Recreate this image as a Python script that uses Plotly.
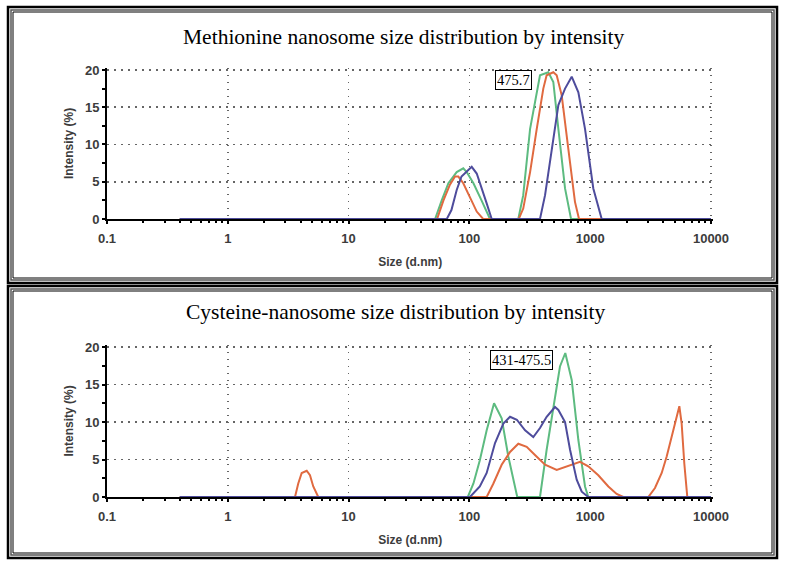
import math
import plotly.graph_objects as go

W, H = 786, 568

# ---------------- data ----------------
# Top panel: Methionine nanosome (size in d.nm, intensity in %)
met_green_x = [0.4, 52, 59, 67, 78.5, 89, 95, 108, 126, 148, 254, 279, 318, 361, 384, 450, 495, 545, 619, 694, 10000]
met_green_y = [0, 0, 2.5, 4.8, 6.3, 6.8, 6.3, 4.8, 2.5, 0, 0, 3.2, 12.1, 17.0, 19.3, 19.7, 18.4, 12.1, 4.1, 0, 0]

met_orange_x = [0.4, 54, 61, 69, 76, 81, 89, 101, 115, 130, 256, 279, 318, 361, 409, 436, 495, 528, 581, 659, 748, 808, 10000]
met_orange_y = [0, 0, 2.5, 4.6, 5.7, 5.7, 4.8, 3.0, 1.0, 0, 0, 1.4, 6.3, 12.1, 17.5, 19.3, 19.7, 19.3, 16.6, 9.4, 2.3, 0, 0]

met_blue_x = [0.4, 65, 71, 78.5, 86, 98, 104.5, 115, 126, 139, 153, 384, 423, 480, 545, 619, 703, 798, 906, 1061, 1245, 10000]
met_blue_y = [0, 0, 1.2, 3.9, 5.7, 6.6, 7.0, 6.1, 4.3, 2.1, 0, 0, 3.2, 9.4, 15.3, 17.5, 19.1, 17.0, 12.1, 4.1, 0, 0]

# Bottom panel: Cysteine-nanosome
cys_green_x = [0.4, 97, 108, 122, 139, 160, 185, 210, 249, 384, 436, 495, 562, 622, 703, 798, 906, 964, 10000]
cys_green_y = [0, 0, 1.8, 4.9, 8.9, 12.5, 10.5, 5.4, 0, 0, 6.3, 12.0, 17.4, 19.2, 15.6, 7.6, 1.4, 0, 0]

cys_orange_x = [0.4, 3.6, 3.83, 4.09, 4.5, 4.79, 5.1, 5.61, 139, 158, 185, 217, 254, 298, 349, 423, 528, 639, 824,
                964, 1167, 1413, 1656, 1879, 3027, 3437, 3908, 4297, 4730, 5200, 5470, 5715, 6010, 6365, 10000]
cys_orange_y = [0, 0, 1.8, 3.2, 3.5, 2.9, 1.4, 0, 0, 1.8, 4.3, 6.0, 7.1, 6.7, 5.6, 4.3, 3.6, 4.1, 4.7,
                4.1, 2.9, 1.4, 0.4, 0, 0, 1.2, 3.2, 5.4, 8.0, 10.7, 12.1, 9.8, 4.5, 0, 0]

cys_blue_x = [0.4, 101, 122, 139, 163, 191, 217, 247, 289, 338, 384, 436, 511, 545, 619, 681, 773, 851, 964, 10000]
cys_blue_y = [0, 0, 1.4, 3.2, 7.2, 9.8, 10.7, 10.3, 8.9, 8.0, 9.2, 10.7, 12.0, 11.6, 10.0, 6.3, 2.3, 0.7, 0, 0]

x_tick_vals = [0.1, 1, 10, 100, 1000, 10000]
x_tick_text = ["0.1", "1", "10", "100", "1000", "10000"]
y_tick_vals = [0, 5, 10, 15, 20]
y_minor_vals = [2.5, 7.5, 12.5, 17.5]
x_minor_vals = [d * m for d in [0.1, 1, 10, 100, 1000] for m in range(2, 10)]

titles = ["Methionine nanosome size distribution by intensity",
          "Cysteine-nanosome size distribution by intensity"]
peak_labels = ["475.7", "431-475.5"]
peak_label_pos = [(230, 18.65), (271, 18.3)]

GREEN = "#5dbb80"
ORANGE = "#e06a40"
BLUE = "#4e4c9c"

# ---------------- figure ----------------
fig = go.Figure()

def add(x, y, color, xa, ya):
    fig.add_trace(go.Scatter(x=x, y=y, mode="lines", xaxis=xa, yaxis=ya,
                             line=dict(color=color, width=2), showlegend=False,
                             hoverinfo="skip"))

add(met_green_x, met_green_y, GREEN, "x", "y")
add(met_orange_x, met_orange_y, ORANGE, "x", "y")
add(met_blue_x, met_blue_y, BLUE, "x", "y")
add(cys_green_x, cys_green_y, GREEN, "x2", "y2")
add(cys_orange_x, cys_orange_y, ORANGE, "x2", "y2")
add(cys_blue_x, cys_blue_y, BLUE, "x2", "y2")

px2x = lambda p: p / W
py2y = lambda p: 1 - p / H

tick_font = dict(family="Liberation Sans, Arial", size=13, color="#3c3c3c", weight="bold")
title_font = dict(family="Liberation Sans, Arial", size=12, color="#3c3c3c", weight="bold")
GRID_DASH = "1.5px,5.5px"

X_EXT = 0.02    # small range extension so the gridline at 10000 is drawn
Y_EXT = 0.3     # small range extension so the gridline at 20 is drawn
DEC_PX = 120.8  # pixels per decade
Y1_PX = 149 / 20
Y2_PX = 150 / 20

def xaxis_cfg(domain, anchor):
    return dict(type="log", range=[-1, 4 + X_EXT], domain=domain, anchor=anchor,
                automargin=False,
                showline=True, linecolor="black", linewidth=2, layer="below traces",
                tickmode="array", tickvals=x_tick_vals, ticktext=x_tick_text,
                ticks="outside", ticklen=3, tickwidth=2, tickcolor="black",
                tickfont=tick_font, ticklabelstandoff=3,
                showgrid=True, gridcolor="#666666", griddash=GRID_DASH, gridwidth=1.6,
                minor=dict(tickmode="array", tickvals=x_minor_vals, ticks="outside",
                           ticklen=2, tickwidth=2, tickcolor="black", showgrid=False),
                title=dict(text="Size (d.nm)", font=title_font, standoff=13),
                zeroline=False, fixedrange=True)

def yaxis_cfg(domain, anchor):
    return dict(range=[0, 20 + Y_EXT], domain=domain, anchor=anchor,
                automargin=False,
                showline=True, linecolor="black", linewidth=2, layer="below traces",
                tickmode="array", tickvals=y_tick_vals,
                ticks="outside", ticklen=3, tickwidth=2, tickcolor="black",
                tickfont=tick_font,
                showgrid=True, gridcolor="#666666", griddash=GRID_DASH, gridwidth=1.6,
                minor=dict(tickmode="array", tickvals=y_minor_vals, ticks="outside",
                           ticklen=3, tickwidth=2, tickcolor="black", showgrid=False),
                title=dict(text="Intensity (%)", font=title_font, standoff=9),
                zeroline=False, fixedrange=True)

x_dom = [px2x(107), px2x(711 + X_EXT * DEC_PX)]
y1_top = 70 - Y_EXT * Y1_PX
y2_top = 347 - Y_EXT * Y2_PX
fig.update_layout(
    template="none",
    width=W, height=H, margin=dict(l=0, r=0, t=0, b=0, pad=0, autoexpand=False),
    paper_bgcolor="white", plot_bgcolor="white",
    xaxis=xaxis_cfg(x_dom, "y"),
    yaxis=yaxis_cfg([py2y(219), py2y(y1_top)], "x"),
    xaxis2=xaxis_cfg(x_dom, "y2"),
    yaxis2=yaxis_cfg([py2y(497), py2y(y2_top)], "x2"),
)

# panel titles
fig.add_annotation(text=titles[0], xref="paper", yref="paper", x=px2x(403.5), y=py2y(37),
                   showarrow=False, xanchor="center", yanchor="middle",
                   font=dict(family="Liberation Serif, Times New Roman", size=21.5, color="black"))
fig.add_annotation(text=titles[1], xref="paper", yref="paper", x=px2x(395.5), y=py2y(312),
                   showarrow=False, xanchor="center", yanchor="middle",
                   font=dict(family="Liberation Serif, Times New Roman", size=21.5, color="black"))

# peak labels
for (lx, ly), txt, xr, yr in zip(peak_label_pos, peak_labels, ["x", "x2"], ["y", "y2"]):
    fig.add_annotation(text=txt, x=math.log10(lx), y=ly, xref=xr, yref=yr,
                       showarrow=False, bgcolor="white", bordercolor="black", borderwidth=1,
                       borderpad=1,
                       font=dict(family="Liberation Serif, Times New Roman", size=14.5, color="black"))

# double-line frames around each panel
frames = [(8, 7, 777, 283), (8, 286, 777, 558)]
shapes = []
for (x0, y0, x1, y1) in frames:
    shapes.append(dict(type="rect", xref="paper", yref="paper",
                       x0=px2x(x0), x1=px2x(x1), y0=py2y(y0), y1=py2y(y1),
                       line=dict(color="black", width=2.5), fillcolor="rgba(0,0,0,0)"))
    shapes.append(dict(type="rect", xref="paper", yref="paper",
                       x0=px2x(x0 + 3), x1=px2x(x1 - 3), y0=py2y(y0 + 3), y1=py2y(y1 - 3),
                       line=dict(color="#555555", width=1.5), fillcolor="rgba(0,0,0,0)"))
    shapes.append(dict(type="rect", xref="paper", yref="paper",
                       x0=px2x(x0 + 5), x1=px2x(x1 - 5), y0=py2y(y0 + 5), y1=py2y(y1 - 5),
                       line=dict(color="black", width=1), fillcolor="rgba(0,0,0,0)"))
fig.update_layout(shapes=shapes)

fig.write_html("out.html", config=dict(displayModeBar=False, staticPlot=True),
               post_script="document.body.style.margin='0';document.body.style.overflow='hidden';")
